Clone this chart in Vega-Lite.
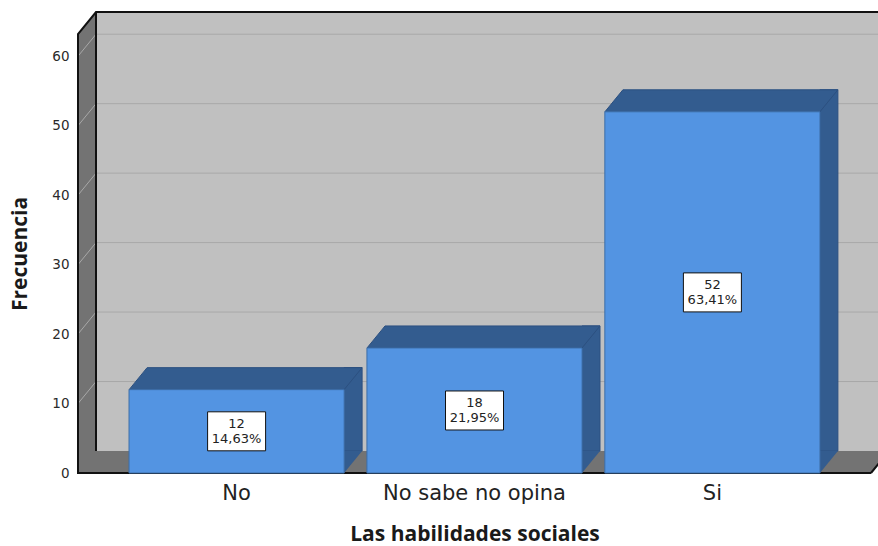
{
  "$schema": "https://vega.github.io/schema/vega-lite/v6.json",
  "width": 793,
  "height": 439,
  "autosize": {"type": "none"},
  "padding": {"left": 78, "top": 34, "right": 7, "bottom": 73},
  "background": "white",
  "config": {
    "view": {"stroke": null},
    "axisX": {"domain": false, "ticks": false, "grid": false, "labelLimit": 400,
      "labelAngle": 0, "labelFont": "DejaVu Sans", "labelFontSize": 21, "labelColor": "#222222",
      "labelBaseline": "alphabetic", "labelPadding": 26,
      "titleFont": "Open Sans", "titleFontWeight": "bold", "titleFontSize": 21, "titleColor": "#1a1a1a",
      "titleY": 67, "titleBaseline": "alphabetic"},
    "axisY": {"domain": false, "ticks": false, "grid": false, "tickCount": 7,
      "labelFont": "DejaVu Sans", "labelFontSize": 13.5, "labelColor": "#2a2a2a", "labelPadding": 9,
      "titleFont": "Open Sans", "titleFontWeight": "bold", "titleFontSize": 21, "titleColor": "#1a1a1a",
      "titleX": -57.5, "titleY": 219.5, "titleAngle": 270, "titleAlign": "center", "titleBaseline": "middle"}
  },
  "datasets": {
    "bars": [
      {"cat": "No", "value": 12, "label": "12\n14,63%"},
      {"cat": "No sabe no opina", "value": 18, "label": "18\n21,95%"},
      {"cat": "Si", "value": 52, "label": "52\n63,41%"}
    ],
    "ticks": [{"v": 10}, {"v": 20}, {"v": 30}, {"v": 40}, {"v": 50}, {"v": 60}],
    "frame": [{"id": 1}]
  },
  "layer": [
    {
      "data": {"name": "frame"},
      "mark": {"type": "point", "filled": true, "opacity": 1, "size": 4, "fill": "#737373", "strokeWidth": 0,
        "shape": "M0,0 L0,-439 L18,-461 L18,-22 L811,-22 L793,0 Z"},
      "encoding": {"x": {"value": 0}, "y": {"datum": 0, "type": "quantitative", "title": "Frecuencia", "scale": {"domain": [0, 63.2], "nice": false, "zero": true}}}
    },
    {
      "data": {"name": "frame"},
      "mark": {"type": "point", "filled": true, "opacity": 1, "size": 4, "fill": "#c0c0c0", "strokeWidth": 0,
        "shape": "M18,-22 L811,-22 L811,-461 L18,-461 Z"},
      "encoding": {"x": {"value": 0}, "y": {"datum": 0, "type": "quantitative", "title": "Frecuencia"}}
    },
    {
      "data": {"name": "ticks"},
      "mark": {"type": "point", "filled": false, "fill": null, "opacity": 1, "size": 4, "stroke": "#a8a8a8", "strokeWidth": 1,
        "shape": "M0,0 L18,-22 L811,-22"},
      "encoding": {"x": {"value": 0}, "y": {"field": "v", "type": "quantitative", "title": "Frecuencia"}}
    },
    {
      "data": {"name": "frame"},
      "mark": {"type": "point", "filled": false, "fill": null, "opacity": 1, "size": 4, "stroke": "#111111", "strokeWidth": 2,
        "shape": "M793,0 L0,0 L0,-439 L18,-461 L811,-461 M18,-461 L18,-22 M793,0 L811,-22"},
      "encoding": {"x": {"value": 0}, "y": {"datum": 0, "type": "quantitative", "title": "Frecuencia"}}
    },
    {
      "data": {"name": "bars"},
      "mark": {"type": "bar", "width": 18, "xOffset": 116.5, "yOffset": -22, "y2Offset": -22, "fill": "#335c8f", "stroke": "#2c5080", "strokeWidth": 1},
      "encoding": {
        "x": {"field": "cat", "type": "nominal", "sort": null, "title": "Las habilidades sociales",
          "scale": {"type": "band", "paddingInner": 0.0957, "paddingOuter": 0.2145}},
        "y": {"field": "value", "type": "quantitative", "stack": null, "title": "Frecuencia"},
        "y2": {"datum": 0}
      }
    },
    {
      "data": {"name": "bars"},
      "mark": {"type": "point", "filled": true, "opacity": 1, "size": 4, "fill": "#335c8f", "strokeWidth": 0,
        "shape": "M107.5,0 L107.5,-22 L125.5,-22 Z"},
      "encoding": {
        "x": {"field": "cat", "type": "nominal", "sort": null, "title": "Las habilidades sociales"},
        "y": {"datum": 0, "type": "quantitative", "title": "Frecuencia"}
      }
    },
    {
      "data": {"name": "bars"},
      "mark": {"type": "point", "filled": true, "opacity": 1, "size": 4, "fill": "#335c8f", "stroke": "#2c5080", "strokeWidth": 1,
        "shape": "M-107.5,0 L-89.5,-22 L125.5,-22 L107.5,0 Z"},
      "encoding": {
        "x": {"field": "cat", "type": "nominal", "sort": null, "title": "Las habilidades sociales"},
        "y": {"field": "value", "type": "quantitative", "stack": null, "title": "Frecuencia"}
      }
    },
    {
      "data": {"name": "bars"},
      "mark": {"type": "bar", "fill": "#5394e2", "stroke": "#3d6ea8", "strokeWidth": 1},
      "encoding": {
        "x": {"field": "cat", "type": "nominal", "sort": null, "title": "Las habilidades sociales"},
        "y": {"field": "value", "type": "quantitative", "stack": null, "title": "Frecuencia"}
      }
    },
    {
      "data": {"name": "bars"},
      "mark": {"type": "point", "filled": true, "opacity": 1, "size": 4, "fill": "white", "stroke": "#111111", "strokeWidth": 1,
        "shape": "M-29,-19.5 L29,-19.5 L29,19.5 L-29,19.5 Z"},
      "encoding": {
        "x": {"field": "cat", "type": "nominal", "sort": null, "title": "Las habilidades sociales"},
        "y": {"field": "value", "type": "quantitative", "stack": "zero", "bandPosition": 0.5, "title": "Frecuencia"}
      }
    },
    {
      "data": {"name": "bars"},
      "mark": {"type": "text", "font": "DejaVu Sans", "fontSize": 13, "fill": "#222222", "baseline": "middle", "lineBreak": "\n", "lineHeight": 15, "dy": -7},
      "encoding": {
        "x": {"field": "cat", "type": "nominal", "sort": null, "title": "Las habilidades sociales"},
        "y": {"field": "value", "type": "quantitative", "stack": "zero", "bandPosition": 0.5, "title": "Frecuencia"},
        "text": {"field": "label", "type": "nominal"}
      }
    }
  ]
}
